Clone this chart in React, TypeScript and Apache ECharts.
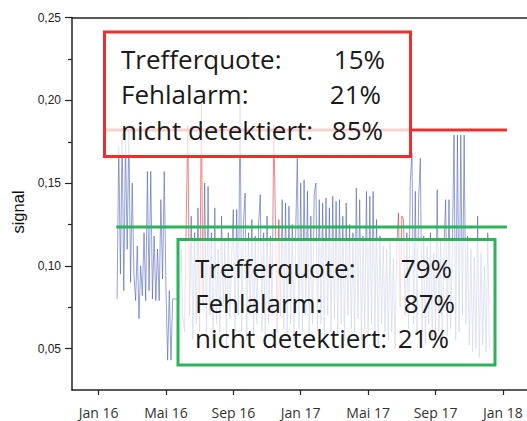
import React, { useEffect, useRef } from 'react';
import * as echarts from 'echarts';

// x axis in months since Jan 2016
const xTickMonths = [0, 4, 8, 12, 16, 20, 24];
const xTickLabels = ['Jan 16', 'Mai 16', 'Sep 16', 'Jan 17', 'Mai 17', 'Sep 17', 'Jan 18'];
const xMin = -1.575;
const xMax = 25.43;

const yTickValues = [0.05, 0.1, 0.15, 0.2, 0.25];
const yTickLabels = ['0,05', '0,10', '0,15', '0,20', '0,25'];
const yMinorTicks = [0.075, 0.125, 0.175, 0.225];
const yMin = 0.025;
const yMax = 0.25;

const signalStartMonth = 1.1;
const signalStepMonths = 0.1;
const signal = [
  0.080, 0.172, 0.095, 0.180, 0.085, 0.176, 0.110, 0.182, 0.090, 0.150,
  0.095, 0.079, 0.112, 0.068, 0.100, 0.082, 0.120, 0.079, 0.157, 0.085,
  0.157, 0.080, 0.118, 0.079, 0.110, 0.079, 0.140, 0.092, 0.157, 0.088,
  0.043, 0.085, 0.043, 0.080, 0.080, 0.080, 0.080, 0.080, 0.110, 0.070,
  0.060, 0.125, 0.185, 0.070, 0.130, 0.055, 0.120, 0.065, 0.135, 0.060,
  0.200, 0.075, 0.150, 0.060, 0.148, 0.070, 0.120, 0.055, 0.135, 0.065,
  0.110, 0.060, 0.130, 0.075, 0.115, 0.050, 0.120, 0.068, 0.105, 0.134,
  0.060, 0.134, 0.070, 0.205, 0.060, 0.125, 0.144, 0.055, 0.120, 0.070,
  0.128, 0.058, 0.118, 0.065, 0.125, 0.143, 0.060, 0.120, 0.052, 0.130,
  0.065, 0.118, 0.070, 0.185, 0.128, 0.060, 0.128, 0.070, 0.140, 0.062,
  0.138, 0.058, 0.136, 0.065, 0.125, 0.055, 0.120, 0.167, 0.062, 0.150,
  0.060, 0.152, 0.070, 0.145, 0.058, 0.130, 0.065, 0.143, 0.150, 0.060,
  0.140, 0.065, 0.138, 0.055, 0.141, 0.070, 0.135, 0.060, 0.142, 0.068,
  0.139, 0.058, 0.140, 0.065, 0.130, 0.055, 0.138, 0.070, 0.125, 0.062,
  0.120, 0.060, 0.147, 0.068, 0.140, 0.055, 0.118, 0.062, 0.145, 0.058,
  0.142, 0.065, 0.145, 0.060, 0.128, 0.052, 0.118, 0.065, 0.112, 0.060,
  0.110, 0.055, 0.115, 0.060, 0.105, 0.050, 0.112, 0.132, 0.075, 0.130,
  0.128, 0.070, 0.120, 0.062, 0.150, 0.168, 0.065, 0.145, 0.058, 0.140,
  0.165, 0.060, 0.118, 0.052, 0.112, 0.065, 0.120, 0.055, 0.108, 0.060,
  0.146, 0.060, 0.115, 0.050, 0.110, 0.140, 0.058, 0.140, 0.062, 0.112,
  0.179, 0.055, 0.179, 0.060, 0.179, 0.070, 0.179, 0.065, 0.118, 0.052,
  0.110, 0.048, 0.105, 0.050, 0.130, 0.045, 0.108, 0.052, 0.100, 0.048,
  0.120, 0.050,
];

// month ranges where the signal is drawn red
const redSegments = [
  [5.15, 5.45],
  [5.95, 6.25],
  [10.35, 10.85],
  [17.75, 18.15],
];

const redThreshold = 0.182;
const greenThreshold = 0.1235;
const redThresholdSpan = [0.3, 24.24];
const greenThresholdSpan = [1.05, 24.24];

const boxLabels = ['Trefferquote:', 'Fehlalarm:', 'nicht detektiert:'];
const redBoxValues = ['15%', '21%', '85%'];
const greenBoxValues = ['79%', '87%', '21%'];

const BLUE = '#4a5fba';
const RED = '#e8302e';
const GREEN = '#2bb35a';
const TEXT_FONT = '"Open Sans", sans-serif';

const GRID_LEFT = 72;
const WIDTH = 527;
const HEIGHT = 421;
const MINOR_TICK_LEN = 4;

export default function App() {
  const ref = useRef<HTMLDivElement>(null);

  useEffect(() => {
    if (!ref.current) return;
    const chart = echarts.init(ref.current, undefined, { renderer: 'svg' });

    const signalData = signal.map((v, i) => [
      +(signalStartMonth + i * signalStepMonths).toFixed(3),
      v,
    ]);

    const redBox = { x: 104.5, y: 32, w: 306, h: 124.5 };
    const greenBox = { x: 178, y: 239.5, w: 317, h: 125.5 };
    const redRows = [58.5, 94, 130];
    const greenRows = [267.5, 302.5, 337.5];
    const redValueRight = [385, 381, 383];
    const greenValueRight = [452, 455, 449];

    const boxText = (x: number, y: number, text: string, align: string) => ({
      type: 'text',
      x,
      y,
      z: 101,
      style: {
        text,
        fill: '#1a1a1a',
        font: `26px ${TEXT_FONT}`,
        align,
        verticalAlign: 'middle',
      },
    });

    const graphic: any[] = [
      {
        type: 'rect',
        z: 100,
        shape: { x: redBox.x, y: redBox.y, width: redBox.w, height: redBox.h },
        style: { fill: 'rgba(255,255,255,0.78)', stroke: RED, lineWidth: 3 },
      },
      {
        type: 'rect',
        z: 100,
        shape: { x: greenBox.x, y: greenBox.y, width: greenBox.w, height: greenBox.h },
        style: { fill: 'rgba(255,255,255,0.72)', stroke: GREEN, lineWidth: 3 },
      },
      ...boxLabels.map((t, i) => boxText(121, redRows[i], t, 'left')),
      ...redBoxValues.map((t, i) => boxText(redValueRight[i], redRows[i], t, 'right')),
      ...boxLabels.map((t, i) => boxText(195, greenRows[i], t, 'left')),
      ...greenBoxValues.map((t, i) => boxText(greenValueRight[i], greenRows[i], t, 'right')),
      {
        type: 'text',
        x: 18,
        y: 212,
        rotation: Math.PI / 2,
        style: {
          text: 'signal',
          fill: '#111',
          font: '16.5px "Liberation Sans", Arial, sans-serif',
          align: 'center',
          verticalAlign: 'middle',
        },
      },
    ];

    chart.setOption({
      animation: false,
      grid: { left: GRID_LEFT, right: 0, top: 17.5, bottom: 31 },
      xAxis: [
        {
          type: 'value',
          min: xMin,
          max: xMax,
          position: 'bottom',
          splitLine: { show: false },
          axisLine: { show: true, onZero: false, lineStyle: { color: '#222', width: 1.5 } },
          axisTick: {
            show: true,
            customValues: xTickMonths,
            length: 5,
            lineStyle: { color: '#222', width: 1.2 },
          },
          axisLabel: {
            customValues: xTickMonths,
            formatter: (v: number) => {
              const i = xTickMonths.findIndex((m) => Math.abs(m - v) < 1e-6);
              return i >= 0 ? xTickLabels[i] : '';
            },
            color: '#333',
            fontFamily: TEXT_FONT,
            fontSize: 14,
            margin: 15,
          },
        },
        {
          type: 'value',
          min: xMin,
          max: xMax,
          position: 'top',
          splitLine: { show: false },
          axisLine: { show: true, onZero: false, lineStyle: { color: '#222', width: 1.5 } },
          axisTick: { show: false },
          axisLabel: { show: false },
        },
      ],
      yAxis: {
        type: 'value',
        min: yMin,
        max: yMax,
        position: 'left',
        splitLine: { show: false },
        axisLine: { show: true, onZero: false, lineStyle: { color: '#222', width: 1.5 } },
        axisTick: {
          show: true,
          customValues: yTickValues,
          length: 7,
          lineStyle: { color: '#222', width: 1.2 },
        },
        axisLabel: {
          customValues: yTickValues,
          formatter: (v: number) => {
            const i = yTickValues.findIndex((t) => Math.abs(t - v) < 1e-9);
            return i >= 0 ? yTickLabels[i] : '';
          },
          color: '#222',
          fontFamily: '"Liberation Sans", Arial, sans-serif',
          fontSize: 12,
          margin: 11,
        },
      },
      visualMap: {
        type: 'piecewise',
        show: false,
        seriesIndex: 0,
        dimension: 0,
        pieces: redSegments.map((r) => ({ gte: r[0], lt: r[1], color: RED })),
        outOfRange: { color: BLUE },
      },
      series: [
        {
          type: 'line',
          data: signalData,
          showSymbol: false,
          symbol: 'none',
          lineStyle: { width: 0.8, opacity: 0.75 },
          z: 2,
        },
        {
          type: 'line',
          data: [
            [redThresholdSpan[0], redThreshold],
            [redThresholdSpan[1], redThreshold],
          ],
          symbol: 'none',
          lineStyle: { color: RED, width: 3 },
          itemStyle: { color: RED },
          z: 3,
        },
        {
          type: 'line',
          data: [
            [greenThresholdSpan[0], greenThreshold],
            [greenThresholdSpan[1], greenThreshold],
          ],
          symbol: 'none',
          lineStyle: { color: GREEN, width: 3 },
          itemStyle: { color: GREEN },
          z: 3,
        },
      ],
      graphic,
    });

    // minor y ticks, placed through the y axis scale
    const axisX = chart.convertToPixel({ xAxisIndex: 0 }, xMin) as number;
    const minorTickLines = yMinorTicks.map((v) => {
      const py = Math.round(chart.convertToPixel({ yAxisIndex: 0 }, v) as number) + 0.5;
      return {
        type: 'line',
        z: 50,
        shape: { x1: axisX - MINOR_TICK_LEN, y1: py, x2: axisX, y2: py },
        style: { stroke: '#222', lineWidth: 1.2 },
      };
    });
    chart.setOption({ graphic: [...graphic, ...minorTickLines] });

    return () => chart.dispose();
  }, []);

  return (
    <div
      ref={ref}
      style={{ position: 'fixed', left: 0, top: 0, width: WIDTH, height: HEIGHT, background: '#fff' }}
    />
  );
}
